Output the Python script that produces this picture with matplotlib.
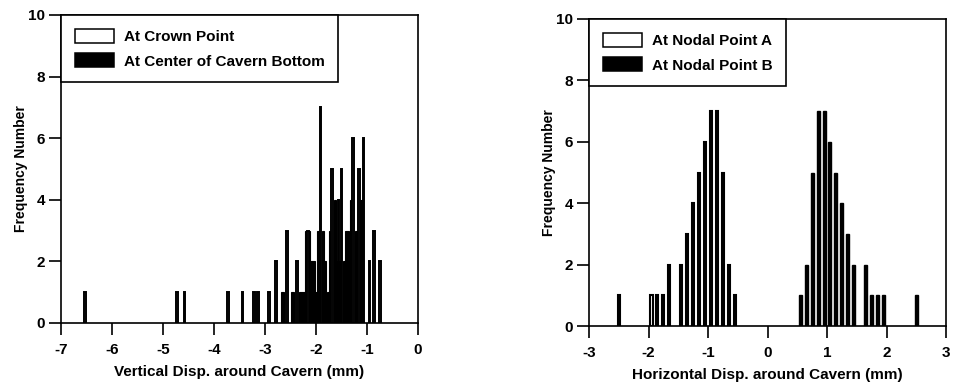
import matplotlib
matplotlib.use('Agg')
import matplotlib.pyplot as plt
from matplotlib.patches import Patch

plt.rcParams['font.family'] = ['Liberation Sans', 'DejaVu Sans']

# ── data ──────────────────────────────────────────────────────────────────────
# left panel: vertical displacement
crown_x = [-6.53, -4.73, -4.58, -3.72, -3.44, -3.22, -3.13, -2.92, -2.78, -2.57,
           -2.37, -2.16, -1.91, -1.68, -1.56, -1.50, -1.27, -1.16, -1.07, -0.95,
           -0.86, -0.75]
crown_n = [1, 1, 1, 1, 1, 1, 1, 1, 2, 3,
           2, 3, 7, 5, 4, 5, 6, 5, 6, 2,
           3, 2]

bottom_x = [-2.66, -2.46, -2.30, -2.25, -2.20, -2.15, -2.10, -2.05, -2.00, -1.95,
            -1.86, -1.82, -1.76, -1.72, -1.63, -1.60, -1.54, -1.45, -1.41, -1.37,
            -1.33, -1.30, -1.22, -1.19, -1.12]
bottom_n = [1, 1, 1, 1, 3, 3, 2, 2, 1, 3,
            3, 2, 1, 3, 4, 2, 2, 2, 3, 3,
            2, 4, 3, 2, 4]

# right panel: horizontal displacement
node_a_x = [-2.50, -1.95, -1.85, -1.75, -1.65, -1.45, -1.35, -1.25, -1.15, -1.05,
            -0.95, -0.85, -0.75, -0.65, -0.55]
node_a_n = [1, 1, 1, 1, 2, 2, 3, 4, 5, 6, 7, 7, 5, 2, 1]
node_b_x = [0.55, 0.65, 0.75, 0.85, 0.95, 1.05, 1.15, 1.25, 1.35, 1.45,
            1.65, 1.75, 1.85, 1.95, 2.50]
node_b_n = [1, 2, 5, 7, 7, 6, 5, 4, 3, 2, 2, 1, 1, 1, 1]

y_ticks = [0, 2, 4, 6, 8, 10]
left_xticks = [-7, -6, -5, -4, -3, -2, -1, 0]
right_xticks = [-3, -2, -1, 0, 1, 2, 3]

W, H = 954, 387
fig = plt.figure(figsize=(W / 100, H / 100), dpi=100)
fig.patch.set_facecolor('white')

ax1 = fig.add_axes([61 / W, (H - 323) / H, 357 / W, 308 / H])
ax2 = fig.add_axes([589 / W, (H - 326) / H, 357 / W, 307 / H])


def style(ax, xticks, xlim, xlabel):
    ax.set_xlim(*xlim)
    ax.set_ylim(0, 10)
    ax.set_xticks(xticks)
    ax.set_yticks(y_ticks)
    ax.set_xticklabels([str(t) for t in xticks], fontweight='bold', fontsize=11)
    ax.set_yticklabels([str(t) for t in y_ticks], fontweight='bold', fontsize=11)
    ax.tick_params(direction='out', length=8.5, width=1.2, pad=3)
    ax.tick_params(axis='x', pad=6)
    for s in ax.spines.values():
        s.set_linewidth(1.2)
    ax.set_xlabel(xlabel, fontsize=11, fontweight='bold', labelpad=6)
    ax.set_ylabel('Frequency Number', fontsize=10, fontweight='bold', labelpad=0)


def legend(ax, labels):
    handles = [Patch(facecolor='white', edgecolor='black', linewidth=1.1),
               Patch(facecolor='black', edgecolor='black', linewidth=1.1)]
    lg = ax.legend(handles, labels, loc='upper left', borderaxespad=0,
                   fancybox=False, edgecolor='black', framealpha=1,
                   prop={'weight': 'bold', 'size': 11},
                   handlelength=2.6, handleheight=1.05, handletextpad=0.6,
                   labelspacing=0.6, borderpad=0.9)
    lg.get_frame().set_linewidth(1.2)


ax1.bar(bottom_x, bottom_n, width=0.05, color='black', edgecolor='black',
        linewidth=0.8, zorder=2)
ax1.bar(crown_x, crown_n, width=0.035, color='white', edgecolor='black',
        linewidth=1.4, zorder=3)
style(ax1, left_xticks, (-7, 0), 'Vertical Disp. around Cavern (mm)')
legend(ax1, ['At Crown Point', 'At Center of Cavern Bottom'])

ax2.bar(node_a_x, node_a_n, width=0.035, color='white', edgecolor='black',
        linewidth=1.5, zorder=3)
ax2.bar(node_b_x, node_b_n, width=0.05, color='black', edgecolor='black',
        linewidth=1.0, zorder=3)
style(ax2, right_xticks, (-3, 3), 'Horizontal Disp. around Cavern (mm)')
legend(ax2, ['At Nodal Point A', 'At Nodal Point B'])

fig.savefig('out.png', dpi=100, facecolor='white')
